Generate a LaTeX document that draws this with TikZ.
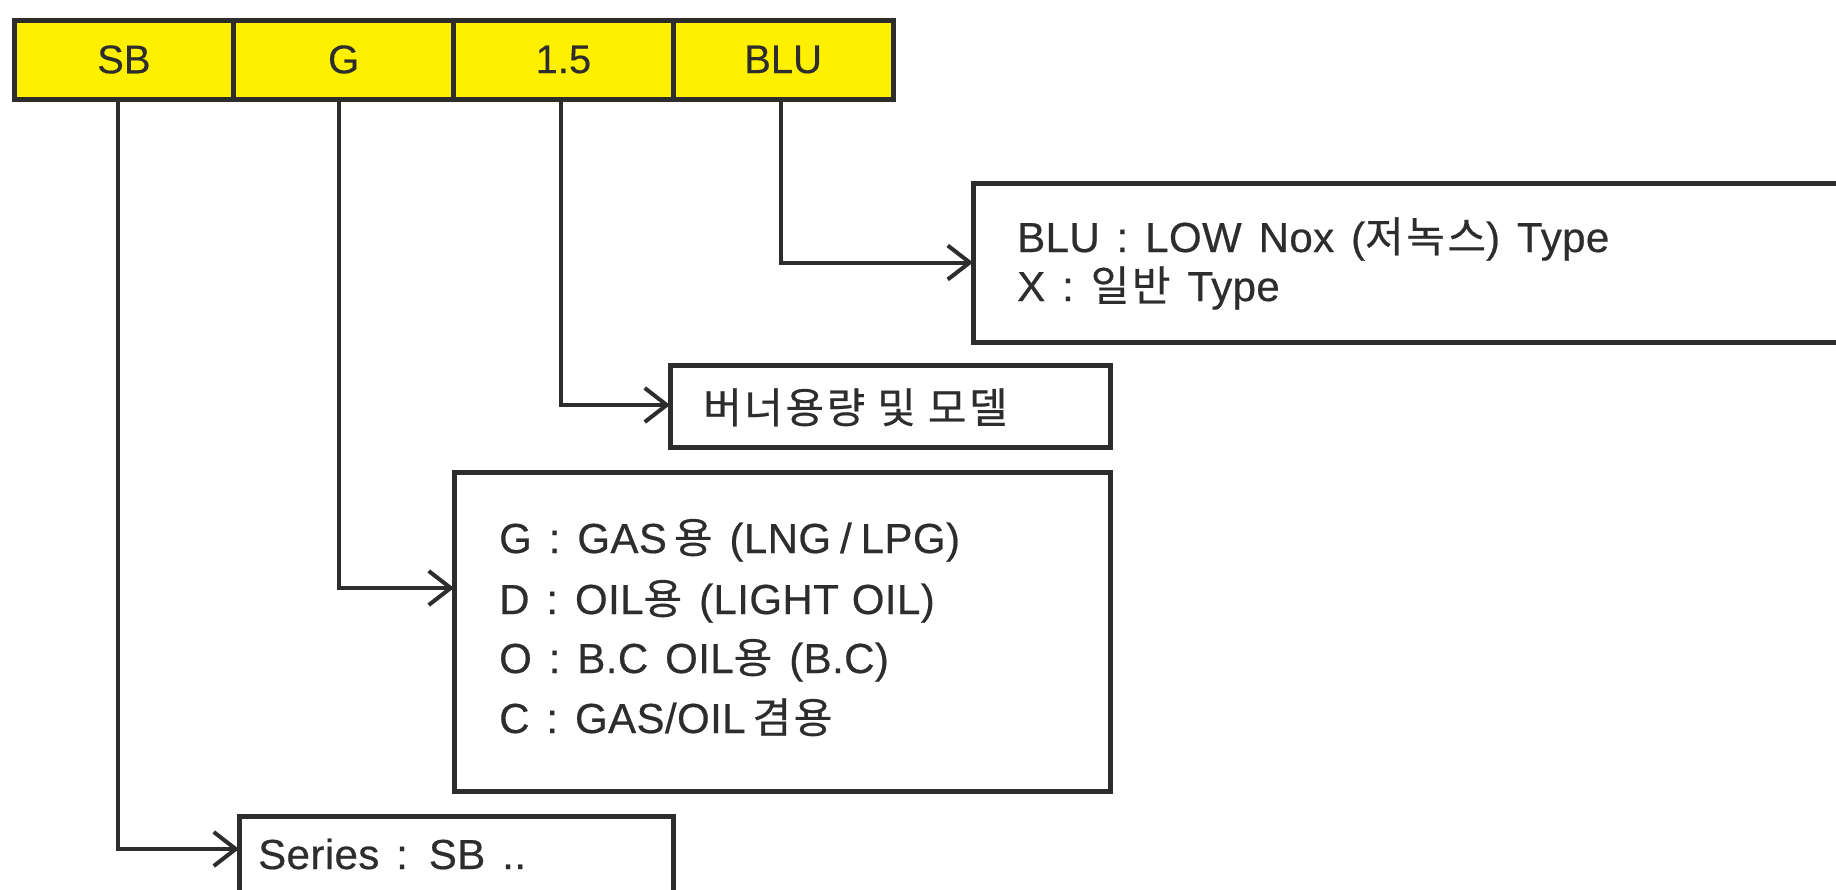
\documentclass[tikz,border=0pt]{standalone}
\usepackage{fontspec}
\setmainfont{Liberation Sans}
\newfontfamily\cellfont{Liberation Sans}[FakeBold=0.3]
\newfontfamily\boxfont{Liberation Sans}[WordSpace=1.4, LetterSpace=1, FakeBold=0.5]
\newfontfamily\kr{Noto Sans CJK KR}[LetterSpace=6, FakeBold=0.5]
\usetikzlibrary{arrows.meta}
\definecolor{codeyellow}{RGB}{255,240,0}
\definecolor{ink}{RGB}{45,45,45}

\begin{document}
\begin{tikzpicture}[x=1pt,y=-1pt,
  cell/.style={draw=ink, line width=5pt, fill=codeyellow, minimum width=219.75pt,
    minimum height=79pt, inner sep=0pt, outer sep=0pt, text=ink,
    font=\cellfont\fontsize{40}{48}\selectfont},
  infobox/.style={draw=ink, line width=5pt, inner sep=0pt, outer sep=0pt, anchor=north west},
  txt/.style={anchor=base west, inner sep=0pt, text=ink, font=\boxfont\fontsize{42}{50}\selectfont},
  conn/.style={draw=ink, line width=4pt, -{Straight Barb[length=22pt,width=34pt]}},
]
\fill[white] (0,0) rectangle (1836,889);
\clip (0,0) rectangle (1836,889);

% code segments
\node[cell] (cSB)  at (123.875,59.5) {SB};
\node[cell] (cG)   at (343.625,59.5) {G};
\node[cell] (c15)  at (563.375,59.5) {1.5};
\node[cell] (cBLU) at (783.125,59.5) {BLU};

% explanation boxes
\node[infobox, minimum width=900pt, minimum height=159pt] (bBLU) at (973,183) {};
\node[infobox, minimum width=440pt, minimum height=82pt]  (b15)  at (670,365) {};
\node[infobox, minimum width=656pt, minimum height=319pt] (bG)   at (454,472) {};
\node[infobox, minimum width=434pt, minimum height=150pt] (bSB)  at (239,816) {};

% box texts
\node[txt] (tBLU1) at (1017,252) {BLU : LOW Nox ({\kr 저녹스}) Type};
\node[txt] (tBLU2) at (1017,301) {X : {\kr 일반} Type};
\node[txt] (t15)   at (703,423)  {\kr 버너용량 및 모델};
\node[txt] (tG1)   at (499,553)  {G : GAS\hspace{7pt}{\kr 용} (LNG\hspace{9pt}/\hspace{9pt}LPG)};
\node[txt] (tG2)   at (499,614)  {D : OIL{\kr 용} (LIGHT\hspace{-4pt} OIL)};
\node[txt] (tG3)   at (499,673)  {O : B.C OIL{\kr 용} (B.C)};
\node[txt] (tG4)   at (499,733)  {C : GAS/OIL\,{\kr 겸용}};
\node[txt] (tSB)   at (258,869)  {Series : SB ..};

% connectors
\draw[conn] ([xshift=-2.1pt]cBLU.south) |- (bBLU.west);
\draw[conn] ([xshift=-2.4pt]c15.south)  |- ([yshift=-40pt]b15.north west);
\draw[conn] ([xshift=-4.6pt]cG.south)   |- ([yshift=-116pt]bG.north west);
\draw[conn] ([xshift=-5.9pt]cSB.south)  |- ([yshift=-33pt]bSB.north west);
\end{tikzpicture}
\end{document}
